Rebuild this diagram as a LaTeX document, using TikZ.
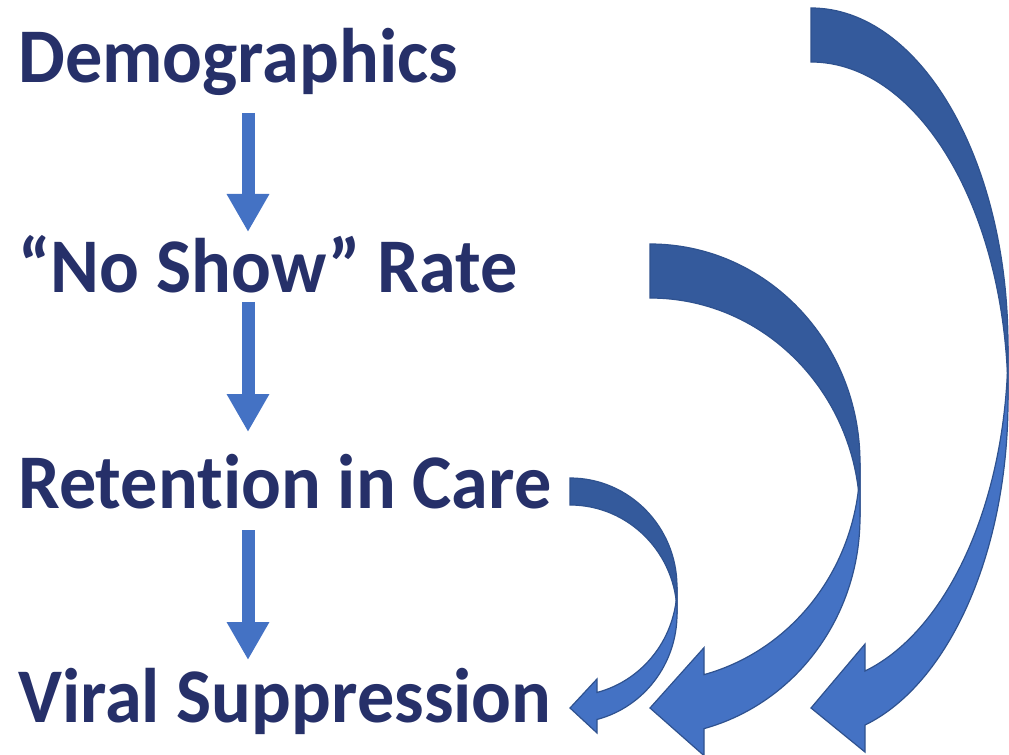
\documentclass[tikz,border=0pt]{standalone}
\usepackage{fontspec}
\setmainfont{Carlito}[Ligatures=NoCommon,FakeStretch=0.96]
\usetikzlibrary{arrows.meta}
\usetikzlibrary{calc}

% curved block arrow: x of tail, top of tail, x radius, y radius, thickness, y of tip
\newcommand{\bentarrow}[6]{%
  \pgfmathsetmacro{\cy}{#2+#4}
  \pgfmathsetmacro{\ang}{acos(#5/#3)}
  \pgfmathsetmacro{\yin}{\cy+#4*sin(\ang)}
  \pgfmathsetmacro{\yout}{\yin+#5}
  \filldraw[backband] (#1,#2) arc[start angle=-90,end angle=0,x radius=#3,y radius=#4]
    -- ++(0,#5) arc[start angle=0,end angle=-90,x radius=#3,y radius=#4] -- cycle;
  \filldraw[frontband] (#1+#3,\cy) arc[start angle=0,end angle=\ang,x radius=#3,y radius=#4]
    -- (#1+#5,\yin-#5/2) -- (#1,#6) -- (#1+#5,\yout+#5/2) -- (#1+#5,\yout)
    arc[start angle=\ang,end angle=0,x radius=#3,y radius=#4] -- cycle;
}

\begin{document}
\begin{tikzpicture}[x=0.75pt,y=-0.75pt,
    lbl/.style={anchor=base west,inner sep=0pt,text=navytext,
      font=\fontsize{58}{70}\selectfont\bfseries},
    flow/.style={draw=flowblue,line width=9.75pt,-{Triangle[width=30pt,length=28.5pt]}},
    backband/.style={fill=backblue,draw=edgeblue,line width=0.9pt},
    frontband/.style={fill=flowblue,draw=edgeblue,line width=0.9pt}]
  \definecolor{navytext}{RGB}{38,48,105}
  \definecolor{flowblue}{RGB}{68,114,196}
  \definecolor{backblue}{RGB}{52,90,156}
  \definecolor{edgeblue}{RGB}{47,82,143}
  \useasboundingbox (0,0) rectangle (1009,755);

  \node[lbl] (demo) at (18,83) {Demographics};
  \node[lbl] (show) at (18,293) {“No Show” Rate};
  \node[lbl] (ret) at (18,508) {Retention in Care};
  \node[lbl] (vs) at (18,722) {Viral Suppression};

  \draw[flow] ($(demo.base west)+(230,30)$) -- ($(show.base west)+(230,-61)$);
  \draw[flow] ($(show.base west)+(230,9)$) -- ($(ret.base west)+(230,-76)$);
  \draw[flow] ($(ret.base west)+(230,22)$) -- ($(vs.base west)+(230,-62)$);

  \bentarrow{811}{8}{197}{338}{54}{708}
  \bentarrow{650}{244}{210}{219}{54}{708}
  \bentarrow{570}{478}{107}{109}{27}{708}
\end{tikzpicture}
\end{document}
